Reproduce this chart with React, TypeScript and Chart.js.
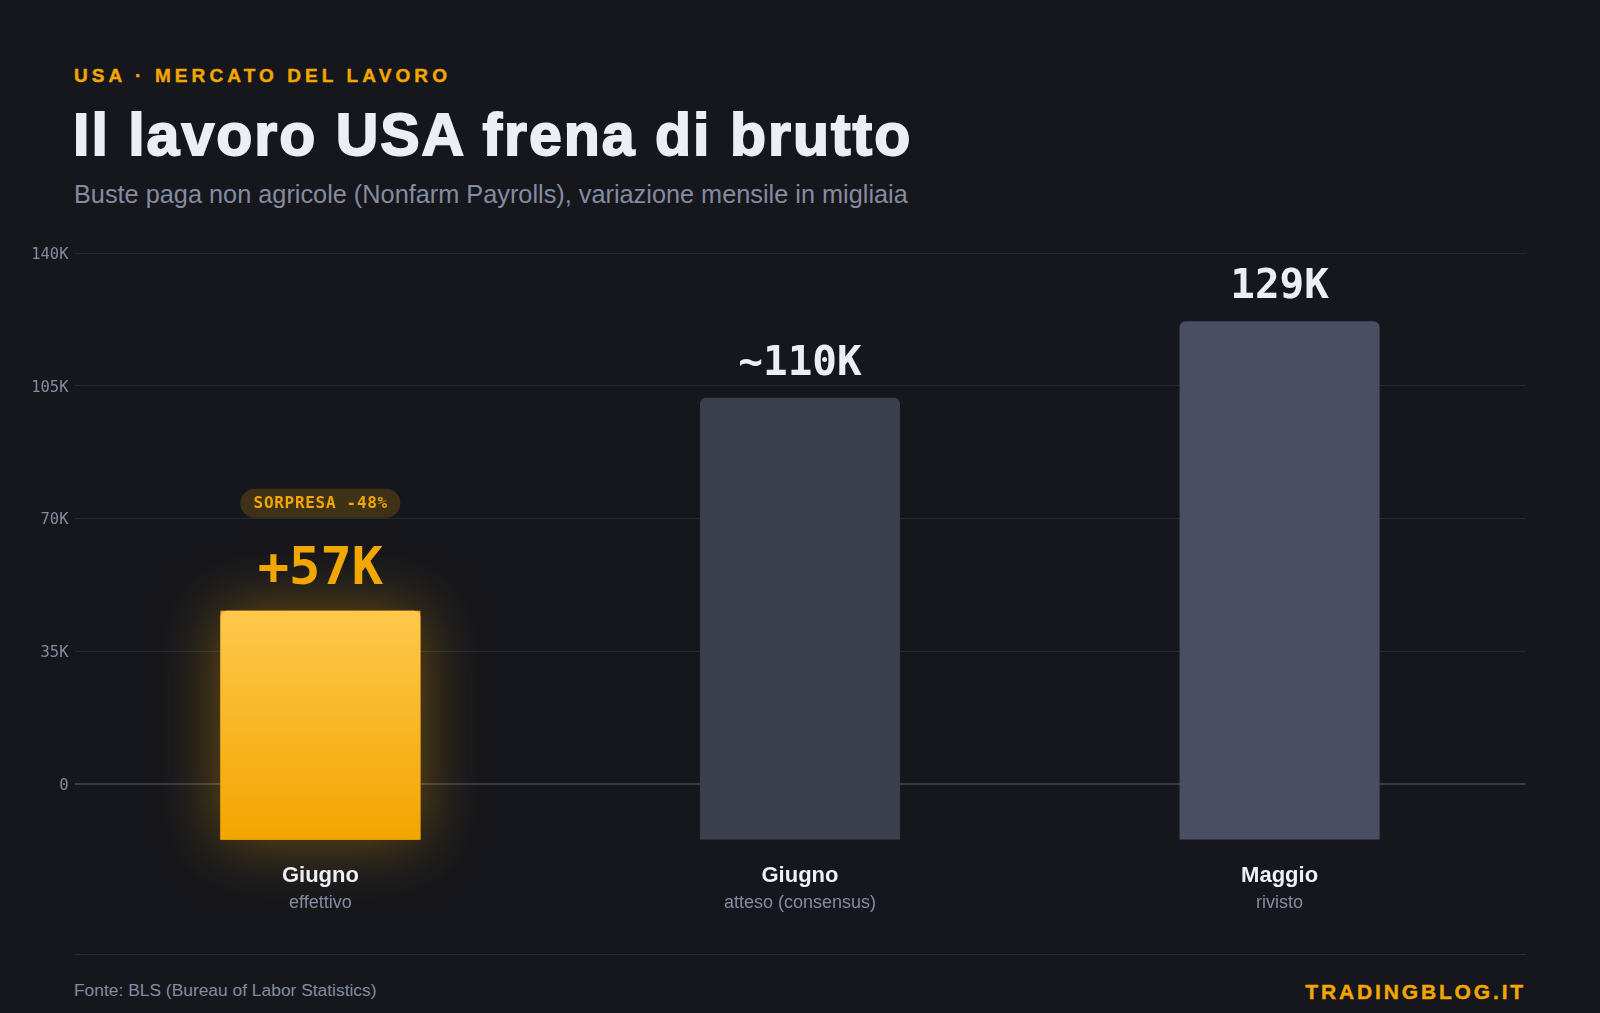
import React, { useEffect, useRef } from 'react';
import { Chart, registerables } from 'chart.js';

Chart.register(...registerables);

// Nonfarm payrolls, monthly change in thousands
const categories = ['Giugno', 'Giugno', 'Maggio'];
const categoryNotes = ['effettivo', 'atteso (consensus)', 'rivisto'];
const payrolls = [57, 110, 129];
const valueLabels = ['+57K', '~110K', '129K'];
const gridTicks = [0, 35, 70, 105, 140];
const surpriseLabel = 'SORPRESA -48%';

const BG = '#16171c';
const ORANGE = '#f2a600';
const MUTED = '#858ba0';
const SANS = "'Liberation Sans', Arial, sans-serif";
const MONO = "'DejaVu Sans Mono', monospace";
const barColors = ['#f5ad0c', '#3b3f4c', '#4a4e62'];

const overlayPlugin = {
  id: 'payrollOverlay',
  beforeDatasetsDraw(chart: any) {
    const meta = chart.getDatasetMeta(0);
    const bar = meta.data[0];
    if (!bar) return;
    const { ctx } = chart;
    const w = bar.width;
    ctx.save();
    ctx.shadowColor = 'rgba(245, 168, 0, 0.42)';
    ctx.shadowBlur = 60;
    ctx.fillStyle = '#f2a600';
    ctx.fillRect(bar.x - w / 2, bar.y, w, bar.base - bar.y);
    ctx.restore();
  },
  afterDatasetsDraw(chart: any) {
    const { ctx, chartArea } = chart;
    const meta = chart.getDatasetMeta(0);
    meta.data.forEach((bar: any, i: number) => {
      const highlight = i === 0;
      ctx.save();
      ctx.textAlign = 'center';
      ctx.textBaseline = 'alphabetic';
      // value above the bar
      ctx.font = `bold ${highlight ? 52 : 41}px ${MONO}`;
      ctx.fillStyle = highlight ? ORANGE : '#eceef3';
      ctx.fillText(valueLabels[i], bar.x, bar.y - (highlight ? 27 : 23));

      // surprise badge above the actual figure
      if (highlight) {
        const cy = bar.y - 107.5;
        const bw = 160;
        const bh = 29;
        ctx.fillStyle = 'rgba(242, 166, 0, 0.19)';
        ctx.beginPath();
        ctx.roundRect(bar.x - bw / 2, cy - bh / 2, bw, bh, bh / 2);
        ctx.fill();
        ctx.font = `bold 16px ${MONO}`;
        (ctx as any).letterSpacing = '0.7px';
        ctx.fillStyle = ORANGE;
        ctx.textBaseline = 'middle';
        ctx.fillText(surpriseLabel, bar.x + 0.35, cy + 1);
        (ctx as any).letterSpacing = '0px';
      }

      // category name and note under the bar
      ctx.textBaseline = 'alphabetic';
      ctx.font = `bold 22px ${SANS}`;
      ctx.fillStyle = '#eef0f5';
      ctx.fillText(categories[i], bar.x, chartArea.bottom + 42.2);
      ctx.font = `18px ${SANS}`;
      ctx.fillStyle = MUTED;
      ctx.fillText(categoryNotes[i], bar.x, chartArea.bottom + 68.2);
      ctx.restore();
    });
  },
};

export default function App() {
  const canvasRef = useRef<HTMLCanvasElement | null>(null);

  useEffect(() => {
    document.body.style.margin = '0';
    document.body.style.background = BG;
    const canvas = canvasRef.current;
    if (!canvas) return;
    const chart = new Chart(canvas, {
      type: 'bar',
      data: {
        labels: categories,
        datasets: [
          {
            data: payrolls.map((v, i) => ({ x: i, y: v })),
            yAxisID: 'y2',
            backgroundColor: (c: any) => {
              if (c.dataIndex !== 0) return barColors[c.dataIndex];
              const ch = c.chart;
              if (!ch.chartArea || !ch.scales.y2) return barColors[0];
              const s = ch.scales.y2;
              const top = s.getPixelForValue(payrolls[0]);
              const bottom = s.getPixelForValue(0);
              const g = ch.ctx.createLinearGradient(0, top, 0, bottom);
              g.addColorStop(0, '#ffc84c');
              g.addColorStop(1, '#f2a500');
              return g;
            },
            borderWidth: 0,
            borderRadius: { topLeft: 6, topRight: 6, bottomLeft: 0, bottomRight: 0 },
            borderSkipped: 'start',
            categoryPercentage: 1,
            barPercentage: 0.834,
          },
        ],
      },
      options: {
        animation: false,
        responsive: true,
        maintainAspectRatio: false,
        layout: { padding: { top: 33, right: 74.5, bottom: 110.2, left: 0 } },
        plugins: {
          legend: { display: false },
          tooltip: { enabled: false },
        },
        scales: {
          x: {
            type: 'linear',
            display: false,
            min: -0.5127,
            max: 2.5127,
            offset: false,
          },
          y: {
            position: 'left',
            min: -14.8,
            max: 140,
            afterBuildTicks: (scale: any) => {
              scale.ticks = gridTicks.map((v) => ({ value: v }));
            },
            afterFit: (scale: any) => {
              scale.width = 74.5;
            },
            border: { display: false },
            grid: {
              drawTicks: false,
              color: (c: any) => (c.tick && c.tick.value === 0 ? '#363a4a' : '#262933'),
              lineWidth: (c: any) => (c.tick && c.tick.value === 0 ? 2 : 1),
            },
            ticks: {
              padding: 6,
              labelOffset: 2,
              color: MUTED,
              font: { family: MONO, size: 15.5 },
              callback: (v: any) => (Number(v) === 0 ? '0' : `${v}K`),
            },
          },
          y2: {
            display: false,
            min: 0,
            max: 146,
          },
        },
      },
      plugins: [overlayPlugin],
    } as any);
    return () => chart.destroy();
  }, []);

  const abs: React.CSSProperties = { position: 'absolute', whiteSpace: 'nowrap', margin: 0 };

  return (
    <div
      style={{
        position: 'relative',
        width: 1600,
        height: 1013,
        background: BG,
        overflow: 'hidden',
        fontFamily: SANS,
      }}
    >
      <div
        style={{
          ...abs,
          left: 74,
          top: 66.2,
          fontSize: 19,
          lineHeight: '19px',
          fontWeight: 700,
          letterSpacing: '4.1px',
          color: ORANGE,
          WebkitTextStroke: `0.4px ${ORANGE}`,
        }}
      >
        USA · MERCATO DEL LAVORO
      </div>
      <div
        style={{
          ...abs,
          left: 73,
          top: 106,
          fontSize: 59,
          lineHeight: '59px',
          fontWeight: 700,
          letterSpacing: '2px',
          color: '#eceef3',
          WebkitTextStroke: '1.8px #eceef3',
        }}
      >
        Il lavoro USA frena di brutto
      </div>
      <div
        style={{
          ...abs,
          left: 74,
          top: 181.8,
          fontSize: 25.3,
          lineHeight: '25.3px',
          color: MUTED,
        }}
      >
        Buste paga non agricole (Nonfarm Payrolls), variazione mensile in migliaia
      </div>

      <div style={{ position: 'absolute', left: 0, top: 220, width: 1600, height: 730 }}>
        <canvas ref={canvasRef} />
      </div>

      <div
        style={{
          position: 'absolute',
          left: 74.5,
          top: 953.5,
          width: 1451,
          height: 1,
          background: '#2a2d38',
        }}
      />
      <div
        style={{
          ...abs,
          left: 74,
          top: 981.6,
          fontSize: 17.4,
          lineHeight: '17.4px',
          color: MUTED,
        }}
      >
        Fonte: BLS (Bureau of Labor Statistics)
      </div>
      <div
        style={{
          ...abs,
          right: 74,
          top: 981.2,
          fontSize: 21,
          lineHeight: '21px',
          fontWeight: 700,
          letterSpacing: '2.85px',
          color: ORANGE,
          WebkitTextStroke: `0.4px ${ORANGE}`,
        }}
      >
        TRADINGBLOG.IT
      </div>
    </div>
  );
}
